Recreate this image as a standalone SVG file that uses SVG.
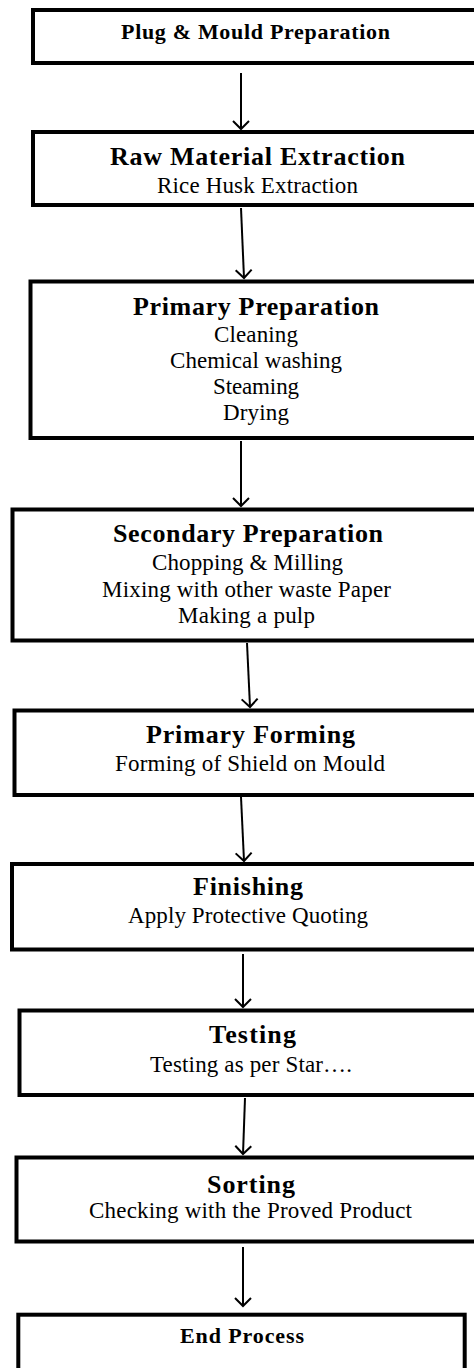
<svg xmlns="http://www.w3.org/2000/svg" width="474" height="1368" viewBox="0 0 474 1368">
<style>
  .box { fill: #ffffff; stroke: #000000; stroke-width: 4; }
  .t { font-family: "Liberation Serif", "Times New Roman", serif; font-weight: bold; font-size: 26px; fill: #000; text-anchor: middle; }
  .ts { font-family: "Liberation Serif", "Times New Roman", serif; font-weight: bold; font-size: 22px; fill: #000; text-anchor: middle; }
  .s { font-family: "Liberation Serif", "Times New Roman", serif; font-size: 23px; fill: #000; text-anchor: middle; }
  .conn { stroke: #000; stroke-width: 2; fill: none; }
</style>
<defs>
  <marker id="arrow" viewBox="-10 -10 12 20" markerWidth="12" markerHeight="20" refX="0" refY="0" orient="auto" markerUnits="userSpaceOnUse">
    <path d="M-8,-8 L0,0 L-8,8" fill="none" stroke="#000" stroke-width="2"/>
  </marker>
</defs>
<rect width="474" height="1368" fill="#ffffff"/>

<g id="n1">
  <rect class="box" x="33" y="10" width="450" height="53"/>
  <text class="ts" x="255.5" y="39.3" textLength="269" lengthAdjust="spacing">Plug &amp; Mould Preparation</text>
</g>
<g id="n2">
  <rect class="box" x="33" y="132" width="450" height="73"/>
  <text class="t" x="257.5" y="165" textLength="295" lengthAdjust="spacing">Raw Material Extraction</text>
  <text class="s" x="257.5" y="192.7" textLength="201" lengthAdjust="spacing">Rice Husk Extraction</text>
</g>
<g id="n3">
  <rect class="box" x="30.5" y="281.5" width="450" height="156.5"/>
  <text class="t" x="256" y="315" textLength="246" lengthAdjust="spacing">Primary Preparation</text>
  <text class="s" x="256" y="341.7" textLength="84" lengthAdjust="spacing">Cleaning</text>
  <text class="s" x="256" y="368.3" textLength="172" lengthAdjust="spacing">Chemical washing</text>
  <text class="s" x="256" y="394" textLength="86" lengthAdjust="spacing">Steaming</text>
  <text class="s" x="256" y="420" textLength="66" lengthAdjust="spacing">Drying</text>
</g>
<g id="n4">
  <rect class="box" x="12.5" y="509.5" width="470" height="131"/>
  <text class="t" x="248" y="541.7" textLength="270" lengthAdjust="spacing">Secondary Preparation</text>
  <text class="s" x="247.5" y="570" textLength="191" lengthAdjust="spacing">Chopping &amp; Milling</text>
  <text class="s" x="246.5" y="596.7" textLength="289" lengthAdjust="spacing">Mixing with other waste Paper</text>
  <text class="s" x="246.5" y="622.7" textLength="137" lengthAdjust="spacing">Making a pulp</text>
</g>
<g id="n5">
  <rect class="box" x="14.5" y="710.5" width="470" height="84.5"/>
  <text class="t" x="250.5" y="743.3" textLength="209" lengthAdjust="spacing">Primary Forming</text>
  <text class="s" x="250" y="770.7" textLength="270" lengthAdjust="spacing">Forming of Shield on Mould</text>
</g>
<g id="n6">
  <rect class="box" x="12" y="864" width="470" height="85.5"/>
  <text class="t" x="248" y="895" textLength="110" lengthAdjust="spacing">Finishing</text>
  <text class="s" x="248" y="923.3" textLength="240" lengthAdjust="spacing">Apply Protective Quoting</text>
</g>
<g id="n7">
  <rect class="box" x="19.5" y="1010.5" width="470" height="84.5"/>
  <text class="t" x="252.5" y="1043.3" textLength="87" lengthAdjust="spacing">Testing</text>
  <text class="s" x="251" y="1071.7" textLength="202" lengthAdjust="spacing">Testing as per Star….</text>
</g>
<g id="n8">
  <rect class="box" x="16.5" y="1157.5" width="470" height="84"/>
  <text class="t" x="251" y="1193.3" textLength="88" lengthAdjust="spacing">Sorting</text>
  <text class="s" x="250.5" y="1218.3" textLength="323" lengthAdjust="spacing">Checking with the Proved Product</text>
</g>
<g id="n9">
  <rect class="box" x="18.3" y="1314.7" width="446.4" height="80"/>
  <text class="ts" x="242" y="1343.3" textLength="124" lengthAdjust="spacing">End Process</text>
</g>

<g id="connectors">
  <line class="conn" x1="241" y1="73" x2="241" y2="129" marker-end="url(#arrow)"/>
  <line class="conn" x1="241" y1="208" x2="244" y2="278" marker-end="url(#arrow)"/>
  <line class="conn" x1="241" y1="441" x2="241" y2="506" marker-end="url(#arrow)"/>
  <line class="conn" x1="247" y1="643" x2="250" y2="707" marker-end="url(#arrow)"/>
  <line class="conn" x1="241" y1="797" x2="244" y2="861" marker-end="url(#arrow)"/>
  <line class="conn" x1="243" y1="954" x2="243" y2="1007" marker-end="url(#arrow)"/>
  <line class="conn" x1="245" y1="1098" x2="243" y2="1154" marker-end="url(#arrow)"/>
  <line class="conn" x1="243" y1="1247" x2="243" y2="1306" marker-end="url(#arrow)"/>
</g>
</svg>
